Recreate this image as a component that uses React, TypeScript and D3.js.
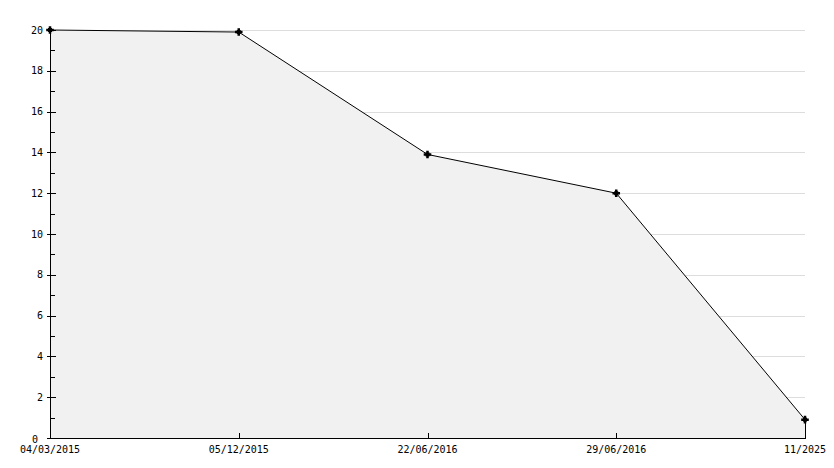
import React, { useEffect, useRef } from "react";
import * as d3 from "d3";

const dates = ["04/03/2015", "05/12/2015", "22/06/2016", "29/06/2016", "11/2025"];
const values = [20, 19.9, 13.9, 12, 0.9];
const majorTicks = [0, 2, 4, 6, 8, 10, 12, 14, 16, 18, 20];
const minorTicks = [1, 3, 5, 7, 9, 11, 13, 15, 17, 19];

const W = 834;
const H = 468;

const App: React.FC = () => {
  const ref = useRef<SVGSVGElement>(null);

  useEffect(() => {
    const margin = { top: 30, right: 29, bottom: 30, left: 50 };
    const svg = d3.select(ref.current);
    svg.selectAll("*").remove();

    const x = d3
      .scalePoint<string>()
      .domain(dates)
      .range([margin.left, W - margin.right]);
    const y = d3
      .scaleLinear()
      .domain([0, 20])
      .range([H - margin.bottom, margin.top]);

    const font = "'DejaVu Sans Mono', monospace";
    const pts = dates.map((d, i) => ({ d, v: values[i] }));

    // grid lines
    svg
      .append("g")
      .selectAll("line")
      .data(majorTicks.filter((t) => t > 0))
      .enter()
      .append("line")
      .attr("x1", margin.left)
      .attr("x2", W - margin.right)
      .attr("y1", (t) => Math.round(y(t)) + 0.5)
      .attr("y2", (t) => Math.round(y(t)) + 0.5)
      .attr("stroke", "#dddddd")
      .attr("shape-rendering", "crispEdges");

    // area
    const area = d3
      .area<{ d: string; v: number }>()
      .x((p) => x(p.d)!)
      .y0(y(0))
      .y1((p) => y(p.v));
    svg.append("path").datum(pts).attr("d", area).attr("fill", "#f1f1f1");

    // line
    const line = d3
      .line<{ d: string; v: number }>()
      .x((p) => x(p.d)!)
      .y((p) => y(p.v));
    svg
      .append("path")
      .datum(pts)
      .attr("d", line)
      .attr("fill", "none")
      .attr("stroke", "#000")
      .attr("stroke-width", 1);

    // right edge of area
    const last = pts[pts.length - 1];
    svg
      .append("line")
      .attr("x1", Math.round(x(last.d)!) + 0.5)
      .attr("x2", Math.round(x(last.d)!) + 0.5)
      .attr("y1", y(last.v))
      .attr("y2", y(0))
      .attr("stroke", "#000")
      .attr("shape-rendering", "crispEdges");

    // y axis
    const yAxis = svg.append("g").attr("shape-rendering", "crispEdges");
    const ax = margin.left + 0.5;
    yAxis
      .append("line")
      .attr("x1", ax)
      .attr("x2", ax)
      .attr("y1", y(20))
      .attr("y2", y(0))
      .attr("stroke", "#000");
    yAxis
      .selectAll(".maj")
      .data(majorTicks)
      .enter()
      .append("line")
      .attr("x1", ax - 4)
      .attr("x2", ax + 5)
      .attr("y1", (t) => Math.round(y(t)) + 0.5)
      .attr("y2", (t) => Math.round(y(t)) + 0.5)
      .attr("stroke", "#000");
    yAxis
      .selectAll(".min")
      .data(minorTicks)
      .enter()
      .append("line")
      .attr("x1", ax)
      .attr("x2", ax + 4)
      .attr("y1", (t) => Math.round(y(t)) + 0.5)
      .attr("y2", (t) => Math.round(y(t)) + 0.5)
      .attr("stroke", "#000");
    yAxis
      .selectAll("text")
      .data(majorTicks)
      .enter()
      .append("text")
      .attr("x", (t) => (t === 0 ? margin.left - 12 : margin.left - 7))
      .attr("y", (t) => y(t) + (t === 0 ? 1 : 0))
      .attr("dy", "0.35em")
      .attr("text-anchor", "end")
      .attr("font-family", font)
      .attr("font-size", 10)
      .attr("fill", "#000")
      .text((t) => String(t));

    // x axis
    const xAxis = svg.append("g").attr("shape-rendering", "crispEdges");
    const by = Math.round(y(0)) + 0.5;
    xAxis
      .append("line")
      .attr("x1", margin.left)
      .attr("x2", W - margin.right + 1)
      .attr("y1", by)
      .attr("y2", by)
      .attr("stroke", "#000");
    xAxis
      .selectAll(".tick")
      .data(dates.slice(1, -1))
      .enter()
      .append("line")
      .attr("x1", (d) => Math.round(x(d)!) + 0.5)
      .attr("x2", (d) => Math.round(x(d)!) + 0.5)
      .attr("y1", by - 6)
      .attr("y2", by)
      .attr("stroke", "#000");
    xAxis
      .selectAll("text")
      .data(dates)
      .enter()
      .append("text")
      .attr("x", (d) => x(d)!)
      .attr("y", by + 11)
      .attr("dy", "0.35em")
      .attr("text-anchor", "middle")
      .attr("font-family", font)
      .attr("font-size", 10)
      .attr("fill", "#000")
      .text((d) => d);

    // markers (blocky star)
    const markers = svg.append("g").selectAll("g").data(pts).enter().append("g")
      .attr("transform", (p) => `translate(${x(p.d)},${y(p.v)})`);
    markers
      .append("path")
      .attr("d", d3.symbol().type(d3.symbolCross).size(32)())
      .attr("fill", "#000");
    markers
      .append("path")
      .attr("d", d3.symbol().type(d3.symbolSquare).size(16)())
      .attr("fill", "#000");
  }, []);

  return (
    <svg
      ref={ref}
      width={W}
      height={H}
      style={{ position: "absolute", left: 0, top: 0, background: "#fff" }}
    />
  );
};

export default App;
